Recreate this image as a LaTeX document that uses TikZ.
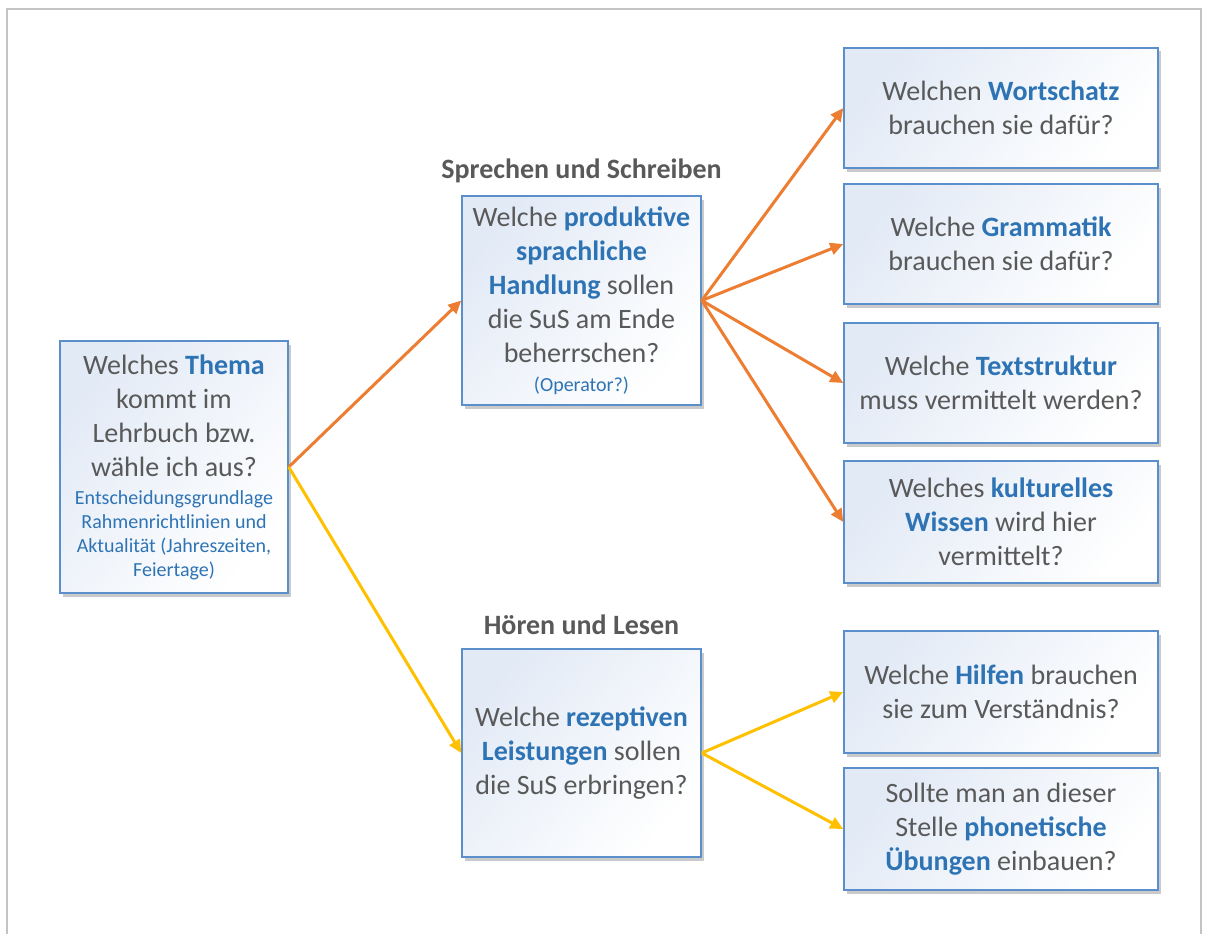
\documentclass[tikz,border=0pt]{standalone}
\usepackage{fontspec}
\setmainfont{Carlito}
\usetikzlibrary{arrows.meta,shadows}
\definecolor{txtgray}{HTML}{595959}
\definecolor{txtblue}{HTML}{2E74B5}
\definecolor{boxline}{HTML}{5B8FCB}
\definecolor{boxfill}{HTML}{E2EAF6}
\definecolor{arrorange}{HTML}{ED7D31}
\definecolor{arryellow}{HTML}{FFC000}
\definecolor{framegray}{HTML}{C4C4C4}
\newcommand{\B}[1]{\textbf{\textcolor{txtblue}{#1}}}
\newcommand{\smallpart}[2]{\parbox[t]{#1}{\centering\fontsize{20}{24}\selectfont\leavevmode\color{txtblue}#2}}
\tikzset{
  qbox/.style={draw=boxline, line width=1.5pt, top color=boxfill, bottom color=white, shading angle=50,
    drop shadow={shadow xshift=2.5pt, shadow yshift=-3.5pt, opacity=0.35, fill=black!60},
    inner sep=0pt, align=flush center, text=txtgray, font=\fontsize{28}{34}\selectfont},
  rbox/.style={qbox, minimum width=314pt, minimum height=120pt, text width=305pt},
  mbox/.style={qbox, minimum width=239pt, minimum height=209pt, text width=232pt},
  heading/.style={font=\bfseries\fontsize{28}{34}\selectfont, text=txtgray, inner sep=0pt},
  orarrow/.style={draw=arrorange, line width=3pt, -{Triangle[length=13pt,width=12pt]}},
  yearrow/.style={draw=arryellow, line width=3pt, -{Triangle[length=13pt,width=12pt]}}
}
\begin{document}
\begin{tikzpicture}[x=1pt,y=-1pt]
\useasboundingbox (0,0) rectangle (1206,934);
\draw[framegray, line width=2.5pt] (7,934) -- (7,9) -- (1201,9) -- (1201,934);

\node[qbox, minimum width=228pt, minimum height=252pt, text width=224pt] (thema) at (174,467)
  {Welches \B{Thema}\\ kommt im\\ Lehrbuch bzw.\\ wähle ich aus?\\[-6pt]
   \smallpart{224pt}{Entscheidungsgrundlage\\ Rahmenrichtlinien und\\ Aktualität (Jahreszeiten,\\ Feiertage)}};

\node[mbox] (prod) at (581.5,300.5)
  {Welche \B{produktive}\\ \B{sprachliche}\\ \B{Handlung} sollen\\ die SuS am Ende\\ beherrschen?\\[-5pt]
   \smallpart{232pt}{(Operator?)}};
\node[heading] (hprod) at (581.5,171) {Sprechen und Schreiben};

\node[mbox, minimum height=208pt] (rez) at (581.5,753)
  {Welche \B{rezeptiven}\\ \B{Leistungen} sollen\\ die SuS erbringen?};
\node[heading] (hrez) at (581.5,625) {Hören und Lesen};

\node[rbox] (w1) at (1001,108) {Welchen \B{Wortschatz}\\ brauchen sie dafür?};
\node[rbox] (w2) at (1001,244) {Welche \B{Grammatik}\\ brauchen sie dafür?};
\node[rbox] (w3) at (1001,383) {Welche \B{Textstruktur}\\ muss vermittelt werden?};
\node[rbox, minimum height=122pt] (w4) at (1001,522) {Welches \B{kulturelles}\\ \B{Wissen} wird hier\\ vermittelt?};
\node[rbox, minimum height=122pt] (w5) at (1001,692) {Welche \B{Hilfen} brauchen\\ sie zum Verständnis?};
\node[rbox, minimum height=122pt] (w6) at (1001,829) {Sollte man an dieser\\ Stelle \B{phonetische}\\ \B{Übungen} einbauen?};

\draw[orarrow] (thema.east) -- (prod.west);
\draw[yearrow] (thema.east) -- (rez.west);
\foreach \t in {w1,w2,w3,w4} \draw[orarrow] (prod.east) -- (\t.west);
\foreach \t in {w5,w6} \draw[yearrow] (rez.east) -- (\t.west);
\end{tikzpicture}
\end{document}
